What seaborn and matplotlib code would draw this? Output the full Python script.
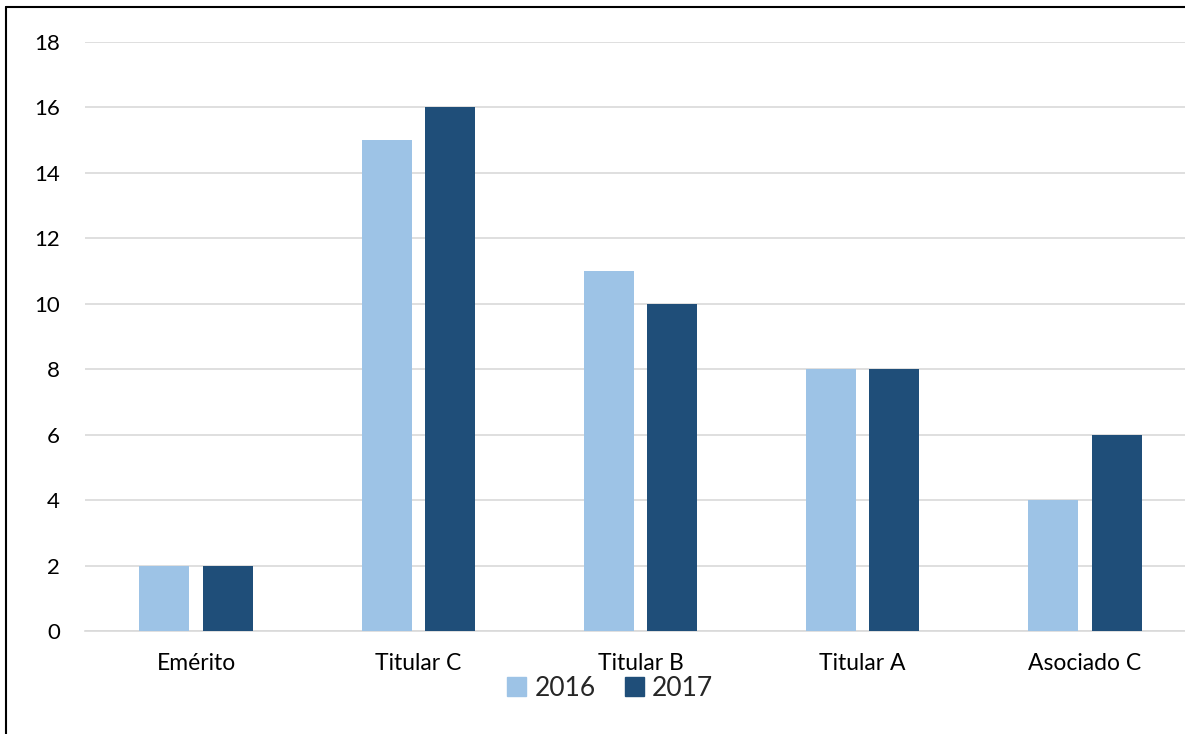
import matplotlib
matplotlib.use("Agg")
import matplotlib.pyplot as plt
import matplotlib.lines as mlines
import pandas as pd
import seaborn as sns

CATEGORIES = ["Emérito", "Titular C", "Titular B", "Titular A", "Asociado C"]
YEARS = ["2016", "2017"]
VALUES_2016 = [2, 15, 11, 8, 4]
VALUES_2017 = [2, 16, 10, 8, 6]
Y_TICKS = [0, 2, 4, 6, 8, 10, 12, 14, 16, 18]

COLOURS = {"2016": "#9DC3E6", "2017": "#1F4E79"}


def main() -> None:
    df = pd.DataFrame({
        "cat": CATEGORIES * 2,
        "year": [YEARS[0]] * len(CATEGORIES) + [YEARS[1]] * len(CATEGORIES),
        "value": VALUES_2016 + VALUES_2017,
    })

    sns.set_theme(style="white")
    plt.rcParams["font.family"] = ["Lato", "DejaVu Sans"]

    W, H = 1185, 734
    fig = plt.figure(figsize=(W / 100, H / 100), dpi=100)
    # axes slightly wider than the canvas: the reference is cropped on the right
    x0, x1 = 85, 1196
    y0, y1 = 631, 42
    ax = fig.add_axes([x0 / W, 1 - y0 / H, (x1 - x0) / W, (y0 - y1) / H])

    sns.barplot(data=df, x="cat", y="value", hue="year", palette=COLOURS,
                width=0.57, gap=0.21, saturation=1, linewidth=0,
                ax=ax, legend=False, zorder=3)

    ax.set_ylim(0, 18)
    ax.set_yticks(Y_TICKS)
    ax.set_xlim(-0.5, len(CATEGORIES) - 0.5)
    ax.yaxis.grid(True, color="#D9D9D9", linewidth=1.2, zorder=0)
    ax.set_axisbelow(True)
    for side in ["top", "right", "left"]:
        ax.spines[side].set_visible(False)
    ax.spines["bottom"].set_color("#D9D9D9")
    ax.spines["bottom"].set_linewidth(1.2)
    ax.tick_params(axis="y", length=0, pad=18, labelsize=16, labelcolor="#000000")
    ax.tick_params(axis="x", length=0, pad=16, labelsize=16.5, labelcolor="#000000")
    ax.set_xlabel("")
    ax.set_ylabel("")

    handles = [plt.Rectangle((0, 0), 1, 1, color=COLOURS[y]) for y in YEARS]
    fig.legend(handles, YEARS, loc="center", bbox_to_anchor=(610 / W, 1 - 688 / H),
               ncol=2, frameon=False, fontsize=19, handlelength=0.75, handleheight=0.75,
               handletextpad=0.3, columnspacing=1.1)

    # outer border (left and top edges visible in the reference)
    fig.add_artist(mlines.Line2D([6 / W, 6 / W], [0, 1 - 7 / H], color="black", linewidth=1.5))
    fig.add_artist(mlines.Line2D([6 / W, 1], [1 - 7 / H, 1 - 7 / H], color="black", linewidth=1.5))

    fig.savefig("out.png", dpi=100)
    plt.close(fig)


if __name__ == "__main__":
    main()
